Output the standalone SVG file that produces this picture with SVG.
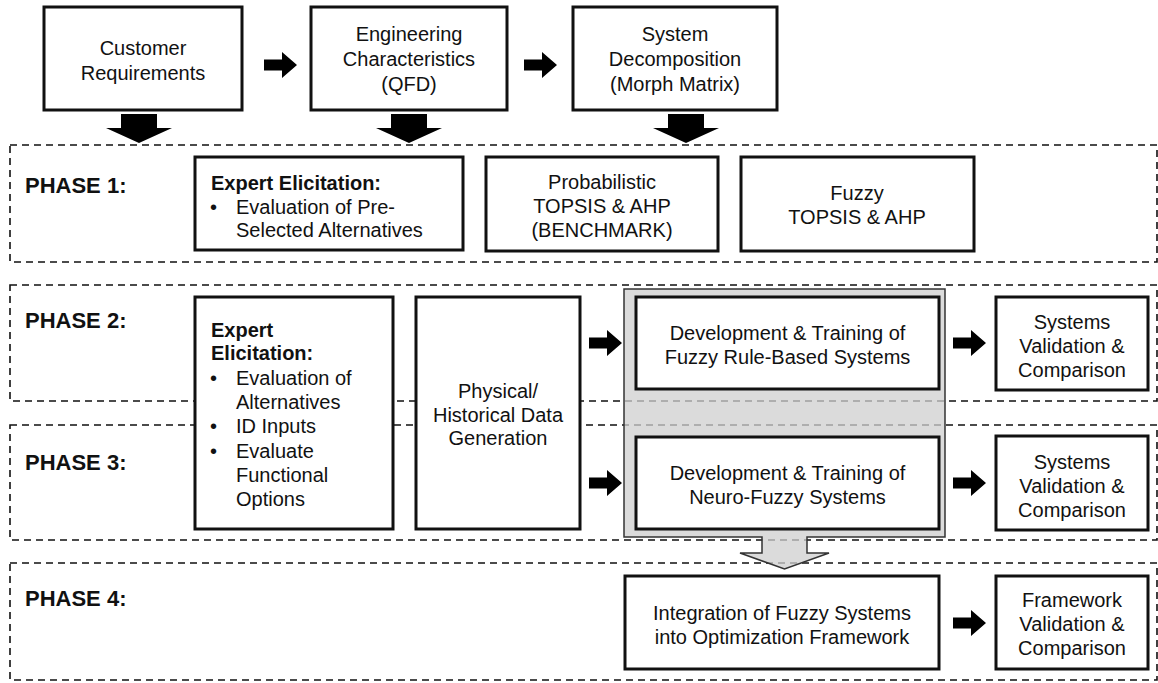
<svg xmlns="http://www.w3.org/2000/svg" width="1158" height="683" viewBox="0 0 1158 683">
<style>
  .box{fill:#fff;stroke:#111;stroke-width:3}
  .phase{fill:none;stroke:#111;stroke-width:1.6;stroke-dasharray:7 5}
  .t{font-family:"Liberation Sans",Arial,Helvetica,sans-serif;font-size:20px;fill:#111}
  .c{text-anchor:middle}
  .b{font-weight:bold}
  .ph{font-family:"Liberation Sans",Arial,Helvetica,sans-serif;font-size:22px;font-weight:bold;fill:#111}
  .arr{fill:#000}
</style>
<defs>
  <path id="ra" d="M0,-5.5 H18 V-13 L33,0 L18,13 V5.5 H0 Z"/>
  <path id="da" d="M-18,0 H18 V14 H33 L0,29 L-33,14 H-18 Z"/>
</defs>
<rect width="1158" height="683" fill="#fff"/>

<g id="phases">
  <g id="phase1"><rect class="phase" x="10" y="145" width="1147" height="117"/><text class="ph" x="25" y="193">PHASE 1:</text></g>
  <g id="phase2"><rect class="phase" x="10" y="285" width="1147" height="116"/><text class="ph" x="25" y="328">PHASE 2:</text></g>
  <g id="phase3"><rect class="phase" x="10" y="425" width="1147" height="115"/><text class="ph" x="25" y="470">PHASE 3:</text></g>
  <g id="phase4"><rect class="phase" x="10" y="563" width="1147" height="117"/><text class="ph" x="25" y="606">PHASE 4:</text></g>
</g>

<g id="fuzzy-group">
  <path d="M624,289 H945 V537 H807 V553 H829 L784.5,569 L740,553 H762 V537 H624 Z" fill="#cfcfcf" fill-opacity="0.75" stroke="#333" stroke-width="1.5"/>
</g>

<g id="customer-req"><rect class="box" x="44" y="7" width="198" height="103"/>
  <text class="t c" x="143" y="55">Customer</text><text class="t c" x="143" y="80">Requirements</text></g>
<g id="eng-char"><rect class="box" x="311" y="7" width="196" height="103"/>
  <text class="t c" x="409" y="41">Engineering</text><text class="t c" x="409" y="66">Characteristics</text><text class="t c" x="409" y="91">(QFD)</text></g>
<g id="sys-decomp"><rect class="box" x="573" y="7" width="204" height="103"/>
  <text class="t c" x="675" y="41">System</text><text class="t c" x="675" y="66">Decomposition</text><text class="t c" x="675" y="91">(Morph Matrix)</text></g>

<g id="expert-p1"><rect class="box" x="195" y="157" width="268" height="93"/>
  <text class="t b" x="211" y="190">Expert Elicitation:</text>
  <text class="t" x="210" y="214">•</text><text class="t" x="236" y="214">Evaluation of Pre-</text>
  <text class="t" x="236" y="237">Selected Alternatives</text></g>
<g id="probabilistic"><rect class="box" x="486" y="157" width="232" height="94"/>
  <text class="t c" x="602" y="189">Probabilistic</text><text class="t c" x="602" y="213">TOPSIS &amp; AHP</text><text class="t c" x="602" y="237">(BENCHMARK)</text></g>
<g id="fuzzy-topsis"><rect class="box" x="741" y="157" width="233" height="94"/>
  <text class="t c" x="857" y="200">Fuzzy</text><text class="t c" x="857" y="224">TOPSIS &amp; AHP</text></g>

<g id="expert-p23"><rect class="box" x="195" y="297" width="198" height="232"/>
  <text class="t b" x="211" y="337">Expert</text><text class="t b" x="211" y="360">Elicitation:</text>
  <text class="t" x="210" y="385">•</text><text class="t" x="236" y="385">Evaluation of</text>
  <text class="t" x="236" y="409">Alternatives</text>
  <text class="t" x="210" y="433">•</text><text class="t" x="236" y="433">ID Inputs</text>
  <text class="t" x="210" y="458">•</text><text class="t" x="236" y="458">Evaluate</text>
  <text class="t" x="236" y="482">Functional</text>
  <text class="t" x="236" y="506">Options</text></g>
<g id="physical"><rect class="box" x="416" y="297" width="164" height="232"/>
  <text class="t c" x="498" y="398">Physical/</text><text class="t c" x="498" y="422">Historical Data</text><text class="t c" x="498" y="445">Generation</text></g>

<g id="dev-frbs"><rect class="box" x="636" y="297" width="303" height="92"/>
  <text class="t c" x="787.5" y="340">Development &amp; Training of</text><text class="t c" x="787.5" y="364">Fuzzy Rule-Based Systems</text></g>
<g id="dev-nfs"><rect class="box" x="636" y="437" width="303" height="92"/>
  <text class="t c" x="787.5" y="480">Development &amp; Training of</text><text class="t c" x="787.5" y="504">Neuro-Fuzzy Systems</text></g>

<g id="sysval-2"><rect class="box" x="996" y="297" width="152" height="93"/>
  <text class="t c" x="1072" y="329">Systems</text><text class="t c" x="1072" y="353">Validation &amp;</text><text class="t c" x="1072" y="377">Comparison</text></g>
<g id="sysval-3"><rect class="box" x="996" y="436" width="152" height="94"/>
  <text class="t c" x="1072" y="469">Systems</text><text class="t c" x="1072" y="493">Validation &amp;</text><text class="t c" x="1072" y="517">Comparison</text></g>

<g id="integration"><rect class="box" x="625" y="576" width="314" height="93"/>
  <text class="t c" x="782" y="620">Integration of Fuzzy Systems</text><text class="t c" x="782" y="644">into Optimization Framework</text></g>
<g id="framework-val"><rect class="box" x="996" y="576" width="152" height="93"/>
  <text class="t c" x="1072" y="607">Framework</text><text class="t c" x="1072" y="631">Validation &amp;</text><text class="t c" x="1072" y="655">Comparison</text></g>

<g id="connectors" class="arr">
  <use href="#ra" x="264" y="65"/>
  <use href="#ra" x="524" y="65"/>
  <use href="#da" x="139" y="114"/>
  <use href="#da" x="409" y="114"/>
  <use href="#da" x="686" y="114"/>
  <use href="#ra" x="589" y="343"/>
  <use href="#ra" x="589" y="483"/>
  <use href="#ra" x="953" y="343"/>
  <use href="#ra" x="953" y="483"/>
  <use href="#ra" x="953" y="623"/>
</g>
</svg>
